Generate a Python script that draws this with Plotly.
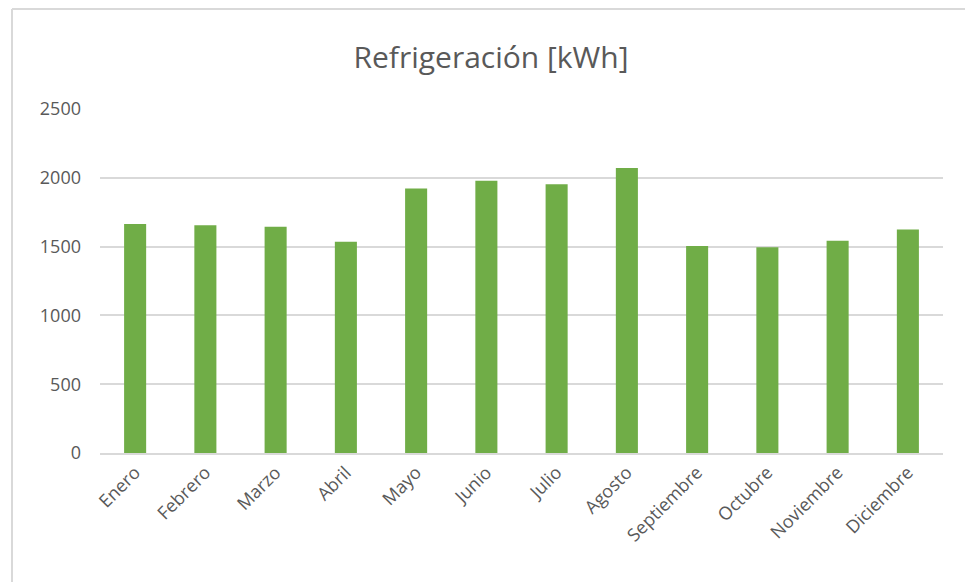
import plotly.graph_objects as go

months = ["Enero", "Febrero", "Marzo", "Abril", "Mayo", "Junio", "Julio",
          "Agosto", "Septiembre", "Octubre", "Noviembre", "Diciembre"]
values = [1665, 1655, 1645, 1536, 1923, 1978, 1954, 2072, 1505, 1495, 1543, 1625]
y_ticks = [0, 500, 1000, 1500, 2000, 2500]

W, H = 965, 582
L, R, T, B = 100, 22, 109, 129

fig = go.Figure(go.Bar(x=months, y=values, marker=dict(color="#70AD47", line=dict(width=0))))

pw = W - L - R
ph = H - T - B
def px_x(p):
    return (p - L) / pw
def px_y(p):
    return (H - B - p) / ph

FONT = "'Open Sans', 'Noto Sans', sans-serif"

fig.update_layout(
    width=W, height=H,
    margin=dict(l=L, r=R, t=T, b=B),
    paper_bgcolor="white", plot_bgcolor="white",
    bargap=0.686,
    showlegend=False,
    font=dict(family=FONT, color="#595959"),
    title=dict(text="Refrigeración [kWh]", x=px_x(491), xref="paper", xanchor="center",
               y=1 - 57 / H, yanchor="middle",
               font=dict(size=30, color="#595959", family=FONT)),
    xaxis=dict(tickangle=-45, tickfont=dict(size=18, color="#595959"),
               showgrid=False, showline=True, linecolor="#D9D9D9", linewidth=2,
               ticks="", ticklen=0),
    yaxis=dict(range=[0, 2500], tickvals=y_ticks, tickfont=dict(size=18, color="#595959"),
               showgrid=True, gridcolor="#D9D9D9", gridwidth=1.5,
               zeroline=False, showline=False, ticks="", ticklabelstandoff=18),
    shapes=[
        dict(type="line", xref="paper", yref="paper", x0=px_x(12), x1=px_x(965), y0=px_y(9), y1=px_y(9),
             line=dict(color="#D9D9D9", width=2)),
        dict(type="line", xref="paper", yref="paper", x0=px_x(12), x1=px_x(12), y0=px_y(9), y1=px_y(582),
             line=dict(color="#D9D9D9", width=2)),
    ],
)

fig.write_html("out.html", config={"displayModeBar": False},
               post_script="document.body.style.margin='0';document.body.style.padding='0';")
